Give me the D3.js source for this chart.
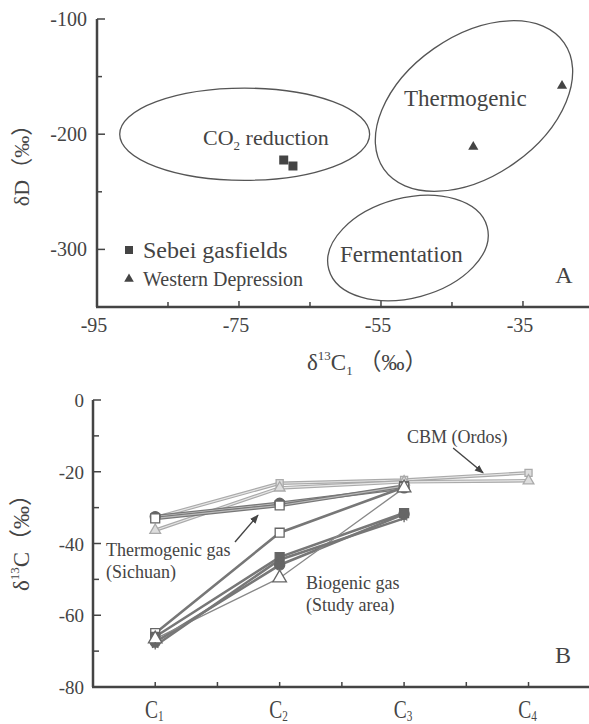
<!DOCTYPE html>
<html><head><meta charset="utf-8">
<script src="https://cdn.jsdelivr.net/npm/d3@7"></script>
<style>
body{margin:0;background:#fff;}
svg text{font-family:"Liberation Serif","DejaVu Serif",serif;fill:#444;}
.cjk{font-family:"Liberation Serif","Noto Sans CJK SC",serif;}
</style></head>
<body><svg id="c" width="589" height="724"></svg>
<script>
// ---------- Panel A data ----------
const aXTicks = [-95, -75, -55, -35];
const aYTicks = [-100, -200, -300];
const sebei = [[-68.7, -222.4], [-67.4, -227.6]];          // δ13C1, δD
const western = [[-29.5, -158], [-42.0, -211]];
const regionNames = ["CO2 reduction", "Thermogenic", "Fermentation"];
const regionCenters = [[-74.2, -200], [-41.9, -175.5], [-51.2, -298.8]];
const regionRadii = [[17.6, 40], [15.5, 60.8], [11.55, 43.4]];  // x-units, y-units
const regionTilt = [0, -35, -15];

// ---------- Panel B data ----------
const categories = ["C1", "C2", "C3", "C4"];
const bYTicks = [0, -20, -40, -60, -80];
const seriesNames = ["Sichuan-1","Sichuan-2","Ordos-1","Ordos-2","Study-1","Study-2","Study-3","Study-4","Study-5"];
const seriesGroup = ["thermo","thermo","cbm","cbm","bio","bio","bio","bio","bio"];
const seriesValues = [
  [-32.5, -28.8, -24.5, null],
  [-33.0, -29.4, -24.0, null],
  [-32.8, -23.2, -22.3, -20.3],
  [-36.3, -24.5, -22.8, -22.5],
  [-65.0, -37.0, -24.3, null],
  [-66.0, -43.8, -31.5, null],
  [-67.5, -46.0, -31.8, null],
  [-66.6, -49.6, -24.5, null],
  [-68.5, -44.5, -33.0, null]
];
const seriesMarker = ["circle","square","square","triangle","square","square","circle","triangle","asterisk"];
const seriesFilled = [true, false, false, false, false, true, true, false, false];

const svg = d3.select("#c");

// ================= Panel A =================
const xA = d3.scaleLinear().domain([-95, -25.7]).range([97, 589]);
const yA = d3.scaleLinear().domain([-350, -100]).range([307, 19]);
const gA = svg.append("g");
const axisCol = "#444";

gA.append("line").attr("x1", xA(-95)).attr("x2", xA(-95)).attr("y1", yA(-100)).attr("y2", yA(-350))
  .attr("stroke", axisCol).attr("stroke-width", 2.5);
gA.append("line").attr("x1", xA(-95) - 1).attr("x2", 589).attr("y1", yA(-350)).attr("y2", yA(-350))
  .attr("stroke", axisCol).attr("stroke-width", 2.5);
d3.range(-100, -351, -50).forEach(v => {
  const major = aYTicks.includes(v);
  gA.append("line").attr("x1", xA(-95)).attr("x2", xA(-95) + (major ? 8 : 5))
    .attr("y1", yA(v)).attr("y2", yA(v)).attr("stroke", axisCol).attr("stroke-width", 1.5);
});
aYTicks.forEach(v => gA.append("text").attr("x", 87).attr("y", yA(v) + 7)
  .attr("text-anchor", "end").attr("font-size", 20).text(v));
d3.range(-95, -25, 10).forEach(v => {
  const major = aXTicks.includes(v);
  if (v === -95) return;
  gA.append("line").attr("x1", xA(v)).attr("x2", xA(v)).attr("y1", yA(-350)).attr("y2", yA(-350) - (major ? 6 : 5))
    .attr("stroke", axisCol).attr("stroke-width", 1.5);
});
aXTicks.forEach(v => gA.append("text").attr("x", xA(v) - 3).attr("y", 332)
  .attr("text-anchor", "middle").attr("font-size", 20).text(v));

// ellipses
const pxX = xA(1) - xA(0), pxY = yA(0) - yA(1);
regionNames.forEach((n, i) => {
  gA.append("ellipse")
    .attr("transform", `translate(${xA(regionCenters[i][0])},${yA(regionCenters[i][1])}) rotate(${regionTilt[i]})`)
    .attr("rx", regionRadii[i][0] * pxX).attr("ry", regionRadii[i][1] * pxY)
    .attr("fill", "none").attr("stroke", "#555").attr("stroke-width", 1.3);
});
const t1 = gA.append("text").attr("x", 203).attr("y", 145).attr("font-size", 22);
t1.append("tspan").text("CO");
t1.append("tspan").attr("font-size", 13).attr("dy", 5).text("2");
t1.append("tspan").attr("dy", -5).text(" reduction");
gA.append("text").attr("x", 404).attr("y", 106).attr("font-size", 23).text("Thermogenic");
gA.append("text").attr("x", 340).attr("y", 262).attr("font-size", 23).text("Fermentation");

gA.selectAll(".sq").data(sebei).join("rect")
  .attr("x", d => xA(d[0]) - 4.5).attr("y", d => yA(d[1]) - 4.5).attr("width", 9).attr("height", 9).attr("fill", "#444");
const tri = d3.symbol().type(d3.symbolTriangle).size(45);
gA.selectAll(".tr").data(western).join("path")
  .attr("d", tri).attr("transform", d => `translate(${xA(d[0])},${yA(d[1])})`).attr("fill", "#444");

// legend
gA.append("rect").attr("x", 125).attr("y", 246).attr("width", 8).attr("height", 8).attr("fill", "#444");
gA.append("text").attr("x", 143).attr("y", 258).attr("font-size", 24).text("Sebei gasfields");
gA.append("path").attr("d", d3.symbol().type(d3.symbolTriangle).size(40)).attr("transform", "translate(129,279)").attr("fill", "#444");
gA.append("text").attr("x", 143).attr("y", 286).attr("font-size", 21).attr("textLength", 160).attr("lengthAdjust", "spacingAndGlyphs").text("Western Depression");

gA.append("text").attr("x", 564).attr("y", 283).attr("text-anchor", "middle").attr("font-size", 24).text("A");

const ytA = gA.append("text").attr("class", "cjk").attr("transform", "translate(29,160) rotate(-90)").attr("text-anchor", "middle").attr("font-size", 22);
ytA.text("δD（‰）");
const xtA = gA.append("text").attr("class", "cjk").attr("x", 307).attr("y", 370).attr("font-size", 23);
xtA.append("tspan").text("δ");
xtA.append("tspan").attr("font-size", 13).attr("dy", -10).text("13");
xtA.append("tspan").attr("dy", 10).text("C");
xtA.append("tspan").attr("font-size", 13).attr("dy", 5).text("1");
xtA.append("tspan").attr("dy", -5).text(" （‰）");

// ================= Panel B =================
const xB = d3.scaleLinear().domain([0.5, 4.486]).range([93, 589]);
const yB = d3.scaleLinear().domain([-80, 0]).range([687, 400]);
const gB = svg.append("g");

gB.append("line").attr("x1", xB(0.5)).attr("x2", xB(0.5)).attr("y1", yB(0)).attr("y2", yB(-80))
  .attr("stroke", axisCol).attr("stroke-width", 2.5);
gB.append("line").attr("x1", xB(0.5) - 1).attr("x2", 589).attr("y1", yB(-80)).attr("y2", yB(-80))
  .attr("stroke", axisCol).attr("stroke-width", 2.5);
d3.range(0, -81, -10).forEach(v => {
  const major = bYTicks.includes(v);
  gB.append("line").attr("x1", xB(0.5)).attr("x2", xB(0.5) + (major ? 8 : 6))
    .attr("y1", yB(v)).attr("y2", yB(v)).attr("stroke", axisCol).attr("stroke-width", 1.5);
});
bYTicks.forEach(v => gB.append("text").attr("x", 84).attr("y", yB(v) + 7)
  .attr("text-anchor", "end").attr("font-size", 19).text(v));
d3.range(1, 4.6, 0.5).forEach(v => {
  gB.append("line").attr("x1", xB(v)).attr("x2", xB(v)).attr("y1", yB(-80)).attr("y2", yB(-80) - 5)
    .attr("stroke", axisCol).attr("stroke-width", 1.5);
});
categories.forEach((c, i) => {
  const g = gB.append("g").attr("transform", `translate(${xB(i + 1) - 1},718) scale(0.75,1)`);
  const t = g.append("text").attr("text-anchor", "middle").attr("font-size", 26);
  t.append("tspan").text(c[0]);
  t.append("tspan").attr("font-size", 15).attr("dy", 3).text(c.slice(1));
});

const lineGen = d3.line().defined(d => d[1] !== null).x(d => xB(d[0])).y(d => yB(d[1]));
const drawOrder = [2, 3, 0, 1, 4, 5, 6, 7, 8];
drawOrder.forEach(i => {
  const pts = seriesValues[i].map((v, j) => [j + 1, v]);
  const grp = seriesGroup[i];
  if (grp === "cbm") {
    gB.append("path").attr("d", lineGen(pts)).attr("fill", "none").attr("stroke", "#aaa").attr("stroke-width", 3.5);
    gB.append("path").attr("d", lineGen(pts)).attr("fill", "none").attr("stroke", "#e6e6e6").attr("stroke-width", 1.2);
  } else if (grp === "thermo") {
    gB.append("path").attr("d", lineGen(pts)).attr("fill", "none").attr("stroke", "#777").attr("stroke-width", 3.5);
    gB.append("path").attr("d", lineGen(pts)).attr("fill", "none").attr("stroke", "#bbb").attr("stroke-width", 1.2);
  } else {
    const thin = (i === 7);
    gB.append("path").attr("d", lineGen(pts)).attr("fill", "none").attr("stroke", thin ? "#888" : "#777")
      .attr("stroke-width", thin ? 1.3 : 2.6);
  }
});
const symMap = {circle: d3.symbolCircle, square: d3.symbolSquare, triangle: d3.symbolTriangle, asterisk: d3.symbolAsterisk};
drawOrder.forEach(i => {
  const pts = seriesValues[i].map((v, j) => [j + 1, v]).filter(d => d[1] !== null);
  const grp = seriesGroup[i];
  const light = grp === "cbm";
  const ast = seriesMarker[i] === "asterisk";
  gB.selectAll(null).data(pts).join("path")
    .attr("d", d3.symbol().type(symMap[seriesMarker[i]]).size(ast ? 40 : (light ? 50 : 80)))
    .attr("transform", d => `translate(${xB(d[0])},${yB(d[1])})`)
    .attr("fill", ast ? "none" : (seriesFilled[i] ? "#666" : (light ? "#ddd" : "#fff")))
    .attr("stroke", light ? "#aaa" : "#666").attr("stroke-width", 1.3);
});

// annotations
const defs = svg.append("defs");
defs.append("marker").attr("id", "ah").attr("viewBox", "0 0 10 10").attr("refX", 9).attr("refY", 5)
  .attr("markerWidth", 9).attr("markerHeight", 9).attr("markerUnits", "userSpaceOnUse").attr("orient", "auto")
  .append("path").attr("d", "M0,1 L10,5 L0,9 z").attr("fill", "#444");
gB.append("text").attr("x", xB(3.024)).attr("y", yB(-12.0)).attr("font-size", 18).text("CBM (Ordos)");
gB.append("line").attr("x1", xB(3.394)).attr("y1", yB(-13.4)).attr("x2", xB(3.635)).attr("y2", yB(-20.3))
  .attr("stroke", "#444").attr("stroke-width", 1.4).attr("marker-end", "url(#ah)");
gB.append("text").attr("x", xB(0.605)).attr("y", yB(-43.5)).attr("font-size", 18).text("Thermogenic gas");
gB.append("text").attr("x", xB(0.605)).attr("y", yB(-49.6)).attr("font-size", 18).text("(Sichuan)");
gB.append("line").attr("x1", xB(1.641)).attr("y1", yB(-39.6)).attr("x2", xB(1.826)).attr("y2", yB(-32.1))
  .attr("stroke", "#444").attr("stroke-width", 1.4).attr("marker-end", "url(#ah)");
gB.append("text").attr("x", xB(2.212)).attr("y", yB(-52.7)).attr("font-size", 18).text("Biogenic gas");
gB.append("text").attr("x", xB(2.212)).attr("y", yB(-58.8)).attr("font-size", 18).text("(Study area)");
gB.append("text").attr("x", 563).attr("y", 663).attr("text-anchor", "middle").attr("font-size", 24).text("B");

const ytB = gB.append("text").attr("class", "cjk").attr("transform", "translate(29,537) rotate(-90)").attr("text-anchor", "middle").attr("font-size", 23);
ytB.append("tspan").text("δ");
ytB.append("tspan").attr("font-size", 13).attr("dy", -10).text("13");
ytB.append("tspan").attr("dy", 10).text("C（‰）");
</script></body></html>
